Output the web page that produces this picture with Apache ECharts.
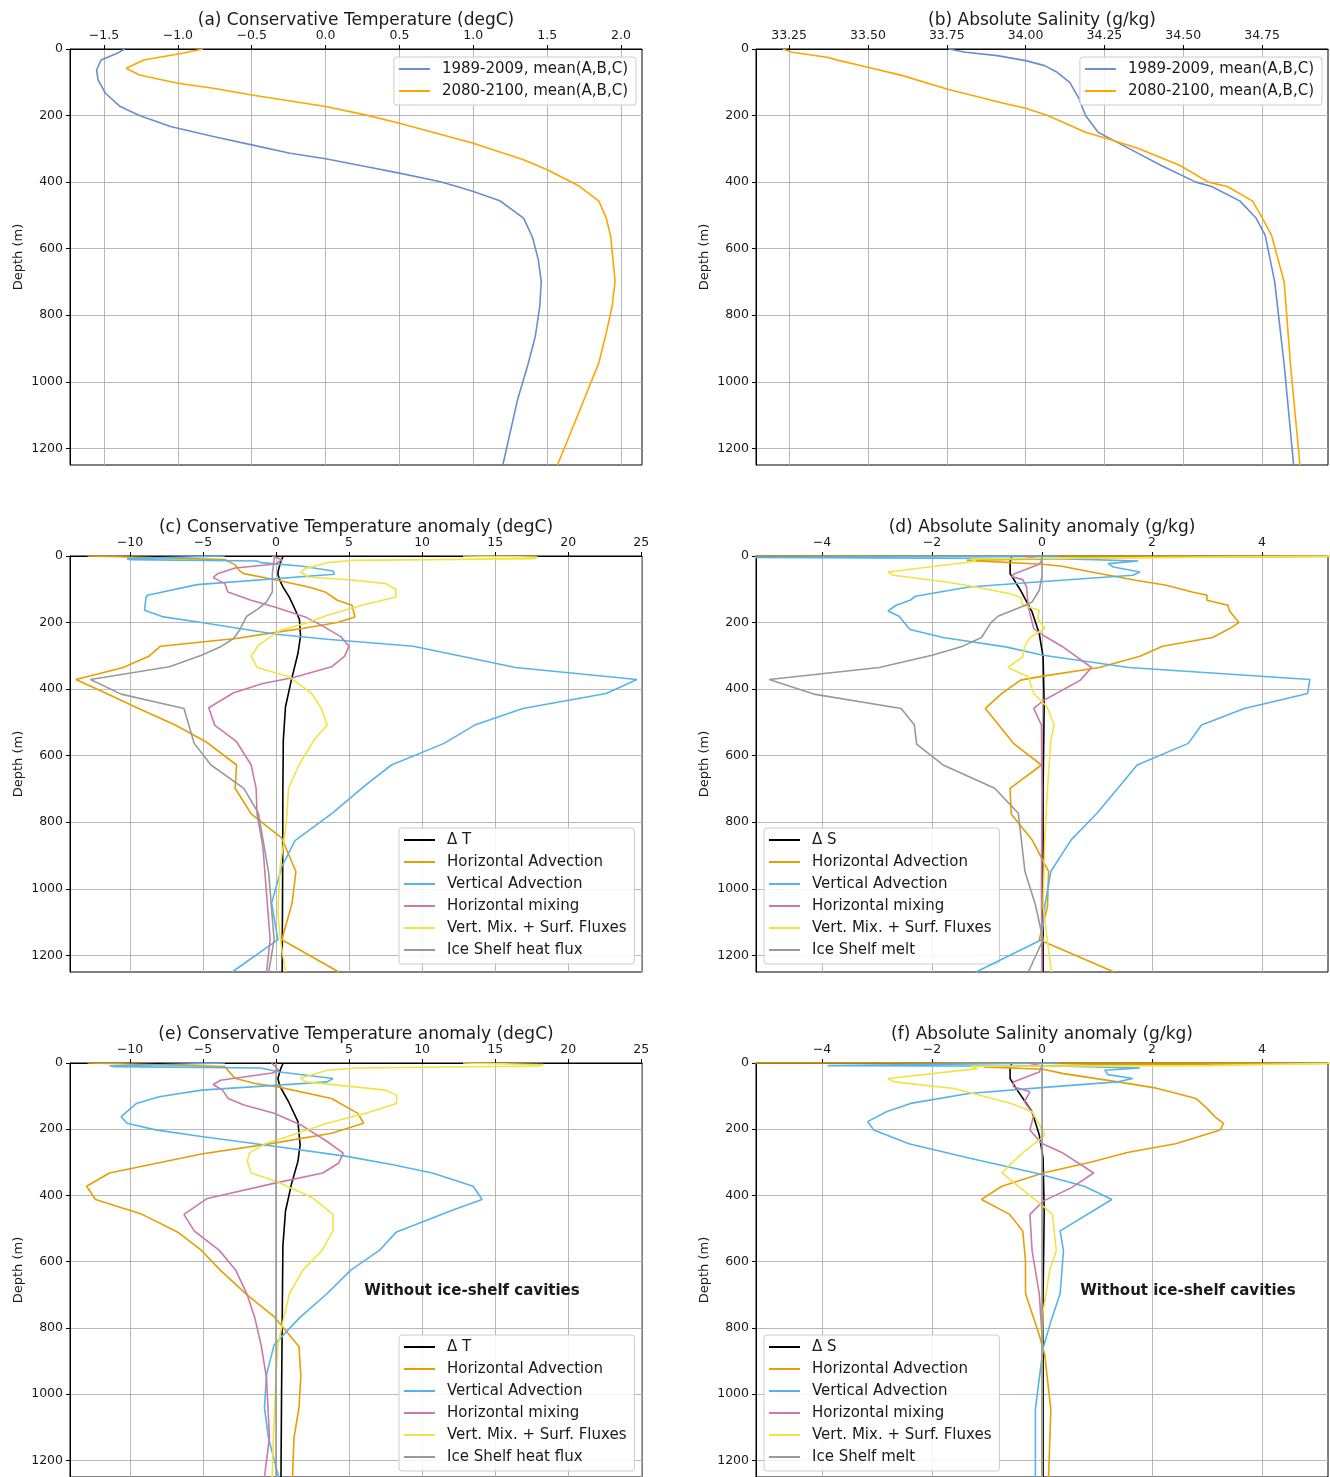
<!DOCTYPE html>
<html><head><meta charset="utf-8">
<script src="https://cdn.jsdelivr.net/npm/echarts@6/dist/echarts.min.js"></script>
<style>html,body{margin:0;padding:0;background:#fff}#c{width:1330px;height:1477px}</style>
</head><body><div id="c"></div>
<script>
// ---------- tick labels ----------
const depthTicks = [0, 200, 400, 600, 800, 1000, 1200];
const ticksA = [-1.5, -1.0, -0.5, 0, 0.5, 1.0, 1.5, 2.0];
const ticksB = [33.25, 33.5, 33.75, 34.0, 34.25, 34.5, 34.75];
const ticksT = [-10, -5, 0, 5, 10, 15, 20, 25];
const ticksS = [-4, -2, 0, 2, 4];

// ---------- series names ----------
const namesAB = ['1989-2009, mean(A,B,C)', '2080-2100, mean(A,B,C)'];
const namesT = ['\u0394 T', 'Horizontal Advection', 'Vertical Advection', 'Horizontal mixing', 'Vert. Mix. + Surf. Fluxes', 'Ice Shelf heat flux'];
const namesS = ['\u0394 S', 'Horizontal Advection', 'Vertical Advection', 'Horizontal mixing', 'Vert. Mix. + Surf. Fluxes', 'Ice Shelf melt'];

// ---------- data: [value, depth (m)] ----------
// (a) Conservative Temperature
const a_hist = [[-1.36,0],[-1.41,13],[-1.52,33],[-1.55,63],[-1.54,93],[-1.49,133],[-1.39,173],[-1.26,200],[-1.05,233],[-0.76,263],[-0.50,288],[-0.24,313],[0.0,330],[0.27,353],[0.5,373],[0.77,398],[0.89,413],[1.0,428],[1.18,456],[1.34,508],[1.40,565],[1.44,633],[1.46,698],[1.45,773],[1.42,863],[1.37,948],[1.30,1053],[1.20,1250]];
const a_fut = [[-0.83,0],[-0.97,13],[-1.23,33],[-1.35,58],[-1.26,78],[-1.0,103],[-0.76,118],[-0.5,138],[0.0,173],[0.27,198],[0.5,223],[1.0,283],[1.34,333],[1.5,363],[1.71,410],[1.85,457],[1.90,508],[1.93,563],[1.96,698],[1.94,773],[1.90,853],[1.85,943],[1.75,1053],[1.57,1250]];
// (b) Absolute Salinity
const b_hist = [[33.756,0],[33.81,10],[33.91,20],[34.00,35],[34.06,50],[34.10,70],[34.14,100],[34.17,150],[34.19,200],[34.23,250],[34.27,270],[34.33,300],[34.43,350],[34.54,400],[34.59,413],[34.68,457],[34.73,507],[34.76,560],[34.79,700],[34.82,948],[34.85,1250]];
const b_fut = [[33.23,0],[33.26,10],[33.37,25],[33.41,35],[33.50,55],[33.61,80],[33.75,120],[33.93,163],[34.0,178],[34.07,200],[34.19,250],[34.26,270],[34.36,300],[34.49,350],[34.58,400],[34.64,413],[34.72,457],[34.75,507],[34.78,560],[34.82,700],[34.84,948],[34.87,1250]];

// (c) Temperature anomaly budget
const c_dT = [[0.5,0],[0.33,16],[0.15,45],[0.13,55],[0.26,73],[0.5,95],[0.9,123],[1.3,160],[1.6,190],[1.68,240],[1.5,293],[1.05,373],[0.65,453],[0.5,553],[0.47,700],[0.45,1000],[0.42,1250]];
const c_hadv = [[-12.9,0],[-10,3],[-3.5,11],[-2.8,26],[-2.5,44],[-2.2,53],[0.1,73],[2.3,94],[3.35,108],[3.7,118],[4.2,133],[5.2,148],[5.4,183],[4.2,200],[1.8,218],[0.65,225],[-2.75,248],[-7.9,271],[-8.7,301],[-10.5,336],[-13.7,371],[-11.6,413],[-9.4,458],[-6.9,508],[-4.8,558],[-2.7,628],[-2.8,698],[-1.7,775],[0.4,848],[1.36,948],[1.1,1043],[0.4,1153],[4.3,1250]];
const c_vadv = [[-3.5,0],[-10.2,8],[-10,11],[-1.3,15],[-1.0,20],[1.8,31],[3.9,45],[4.0,55],[-5.4,86],[-8.8,118],[-8.9,125],[-9.0,163],[-7.7,183],[-5.1,200],[-2.5,218],[0,235],[3.5,250],[9.4,271],[16.4,335],[24.7,371],[22.6,413],[16.9,458],[13.6,508],[11.5,563],[7.9,628],[6.15,688],[3.9,771],[1.3,855],[0.4,933],[-0.3,1043],[0.13,1153],[-3.0,1250]];
const c_hmix = [[-0.25,0],[0.4,11],[0,24],[-2.8,36],[-4.0,53],[-4.3,65],[-3.5,83],[-3.3,108],[-1.7,133],[-0.1,153],[2.0,183],[3.3,213],[4.45,243],[5.0,271],[4.7,301],[3.8,333],[1.2,365],[-0.9,383],[-2.9,411],[-4.6,456],[-4.2,508],[-2.7,558],[-1.7,628],[-1.36,698],[-1.3,773],[-0.9,873],[-0.4,1153],[-0.65,1250]];
const c_vmix = [[12.8,0],[17.9,3],[17.7,8],[5.4,13],[3.5,20],[2.0,38],[1.7,48],[2.2,63],[5.4,73],[7.5,83],[8.2,100],[8.2,123],[5.9,148],[3.5,178],[2.0,203],[0.3,223],[-1.2,268],[-1.7,301],[-1.3,335],[0.9,363],[2.4,411],[3.1,458],[3.5,508],[2.6,553],[1.57,628],[0.86,698],[0.7,803],[0.26,943],[0.13,1073],[0.3,1153],[0.65,1250]];
const c_ice = [[-0.1,0],[-0.25,53],[-0.25,108],[-0.65,138],[-1.2,158],[-2.0,181],[-2.5,223],[-2.9,248],[-3.8,273],[-5.1,298],[-7.3,333],[-12.7,371],[-10.6,415],[-6.3,458],[-5.6,563],[-4.45,628],[-2.2,698],[-1.2,773],[-0.5,953],[-0.13,1153],[-0.5,1250]];

// (d) Salinity anomaly budget
const d_dS = [[-0.55,0],[-0.58,18],[-0.58,53],[-0.39,103],[-0.18,168],[-0.05,233],[0.02,303],[0.04,450],[0.02,700],[0.02,1250]];
const d_hadv = [[-5.5,0],[5.5,1],[1.1,5],[-1.37,13],[0.02,25],[0.36,31],[0.9,48],[1.7,73],[2.26,88],[2.73,108],[3.0,118],[3.0,133],[3.38,148],[3.41,165],[3.58,200],[3.41,218],[3.1,245],[2.19,271],[1.78,301],[1.04,335],[0.02,361],[-0.39,373],[-0.73,413],[-1.03,458],[-0.52,563],[-0.01,628],[-0.58,698],[-0.56,775],[-0.18,853],[0.12,948],[0.1,1053],[-0.05,1153],[1.31,1250]];
const d_vadv = [[0.3,0],[-5.5,4],[0.3,8],[1.75,15],[1.2,23],[1.3,33],[1.78,48],[1.65,58],[0.16,75],[-1.33,93],[-2.3,121],[-2.4,133],[-2.65,148],[-2.8,165],[-2.6,181],[-2.4,221],[-1.8,245],[-0.66,273],[0.02,298],[1.58,335],[4.87,371],[4.83,413],[3.68,458],[2.9,508],[2.66,563],[1.73,628],[1.38,698],[1.0,773],[0.53,853],[0.16,948],[0.05,1053],[-0.01,1153],[-1.2,1250]];
const d_hmix = [[-0.34,0],[0,11],[-0.05,25],[-0.5,53],[-0.55,62],[-0.35,71],[-0.28,93],[-0.25,153],[-0.15,218],[0.02,238],[0.36,271],[0.9,335],[0.7,373],[0.02,435],[-0.15,458],[-0.01,508],[0,700],[-0.01,1000],[0,1250]];
const d_vmix = [[5.5,0],[5.5,6],[-1.3,9],[-1.2,16],[-2.8,48],[-2.7,58],[-1.74,78],[-1.2,93],[-0.59,113],[-0.39,125],[-0.35,148],[-0.05,163],[-0.08,188],[0.05,218],[-0.22,245],[-0.32,273],[-0.35,303],[-0.62,335],[-0.25,363],[-0.15,413],[0.09,453],[0.22,508],[0.16,553],[0.1,700],[0.05,853],[0.02,1053],[0.17,1250]];
const d_ice = [[0,0],[0,60],[-0.05,103],[-0.18,138],[-0.35,151],[-0.8,181],[-0.93,201],[-1.1,245],[-1.47,273],[-2.0,298],[-2.96,335],[-4.96,371],[-4.15,415],[-2.56,458],[-2.32,508],[-2.28,565],[-1.8,628],[-0.86,698],[-0.43,773],[-0.31,948],[-0.12,1048],[0.02,1153],[-0.25,1250]];

// (e) Temperature anomaly budget, no cavities
const e_dT = [[0.5,0],[0.33,16],[0.13,47],[0.26,70],[0.86,117],[1.5,177],[1.65,247],[1.5,297],[1.05,367],[0.65,447],[0.47,553],[0.42,800],[0.38,1000],[0.34,1250]];
const e_hadv = [[-12.9,0],[-10,3],[-3.5,11],[-2.9,42],[-2.75,47],[-1.44,62],[0.13,72],[3.8,107],[5.6,152],[6.0,182],[3.8,212],[-0.13,242],[-5.1,275],[-11.4,332],[-12.96,372],[-12.36,412],[-9.16,457],[-6.68,512],[-5.1,566],[-3.8,626],[-1.96,701],[-0.13,766],[1.57,856],[1.7,946],[1.57,1041],[1.23,1131],[1.13,1250]];
const e_vadv = [[-3.5,0],[-11.4,9],[-11,11],[-1.05,15],[0.26,27],[3.9,47],[3.5,57],[-1.7,72],[-5.1,82],[-8.0,102],[-9.55,122],[-10.6,162],[-10.2,182],[-8.25,202],[-5.1,222],[0,252],[4.84,282],[8.0,307],[10.7,332],[13.5,372],[14.1,412],[12.2,442],[8.25,510],[7.07,566],[5.1,626],[3.5,696],[1.57,771],[-0.13,851],[-0.65,941],[-0.79,1041],[-0.52,1131],[0.18,1250]];
const e_hmix = [[-0.3,0],[0.18,22],[-0.26,30],[-3.8,52],[-4.3,65],[-3.66,82],[-3.27,107],[-2.2,127],[-0.13,152],[1.7,187],[3.5,237],[4.6,272],[4.3,302],[3.2,332],[0,362],[-4.7,409],[-6.3,457],[-5.6,507],[-3.9,565],[-2.75,626],[-1.96,701],[-1.44,771],[-1.0,856],[-0.65,951],[-0.45,1131],[-0.79,1250]];
const e_vmix = [[12.8,0],[18.3,5],[18.0,9],[5.5,15],[3.5,22],[1.7,45],[2.0,57],[5.4,72],[7.5,82],[8.25,97],[8.25,122],[6.15,152],[3.5,182],[0.8,222],[-0.65,242],[-1.83,272],[-1.96,297],[-1.7,332],[0,357],[2.5,407],[3.9,457],[3.9,507],[3.14,566],[1.83,626],[0.92,696],[0.52,771],[0.13,851],[0,941],[-0.18,1131],[-0.26,1250]];
const e_ice = [[0,0],[0,1250]];

// (f) Salinity anomaly budget, no cavities
const f_dS = [[-0.55,0],[-0.58,17],[-0.58,47],[-0.45,82],[-0.18,147],[-0.05,217],[0.02,287],[0.04,450],[0.02,700],[0.02,1250]];
const f_hadv = [[-5.5,0],[5.5,1],[1.1,5],[-1.06,12],[0.02,19],[0.39,32],[1.38,57],[2.05,75],[2.8,107],[3.0,137],[3.14,162],[3.3,182],[3.24,202],[2.43,244],[1.55,270],[0.9,299],[0.02,332],[-0.73,372],[-1.1,412],[-0.59,457],[-0.35,507],[-0.3,597],[-0.3,696],[-0.05,821],[0.05,881],[0.16,1046],[0.12,1250]];
const f_vadv = [[0.3,0],[-3.9,8],[0.4,10],[1.78,15],[1.14,22],[1.2,35],[1.65,47],[1.38,57],[0.16,72],[-1.33,92],[-2.39,122],[-2.83,147],[-3.17,177],[-3.06,202],[-2.42,244],[-1.33,287],[-0.12,332],[0.77,372],[1.27,412],[0.33,507],[0.39,567],[0.33,696],[0.16,781],[0.02,861],[-0.12,1046],[-0.12,1250]];
const f_hmix = [[-0.25,0],[0,9],[-0.05,27],[-0.52,57],[-0.52,72],[-0.22,87],[-0.32,117],[-0.15,157],[-0.22,202],[-0.01,242],[0.36,270],[0.94,332],[0.53,377],[0.02,417],[-0.22,457],[-0.18,567],[-0.05,696],[0,821],[0,1250]];
const f_vmix = [[5.5,0],[5.5,3],[3.04,8],[-1.3,10],[-1.17,17],[-2.8,47],[-2.69,57],[-1.6,77],[-0.56,122],[-0.18,147],[0.0,200],[0.05,219],[-0.32,267],[-0.52,297],[-0.73,332],[-0.32,387],[0.02,432],[0.19,457],[0.26,567],[0.14,626],[0.02,751],[0,900],[0,1250]];
const f_ice = [[0,0],[0,1250]];

// ---------- layout / style ----------
const FONT = 'DejaVu Sans';
const TXT = '#1a1a1a';
const colAB = ['#6a8dd0', '#ffa500'];
const colBud = ['#000000', '#E69F00', '#56B4E9', '#CC79A7', '#F0E442', '#999999'];
const GW = 572, GH = 416;
const panels = [
  {left:70,  top:49,   xmin:-1.73,  xmax:2.142,  ticks:ticksA, dec:1, title:'(a) Conservative Temperature (degC)',  names:namesAB, cols:colAB, data:[a_hist,a_fut], legend:{right:694, top:57}},
  {left:756, top:49,   xmin:33.145, xmax:34.959, ticks:ticksB, dec:2, title:'(b) Absolute Salinity (g/kg)',         names:namesAB, cols:colAB, data:[b_hist,b_fut], legend:{right:8, top:57}},
  {left:70,  top:556,  xmin:-14.1,  xmax:25.05,  ticks:ticksT, dec:0, title:'(c) Conservative Temperature anomaly (degC)', names:namesT, cols:colBud, data:[c_dT,c_hadv,c_vadv,c_hmix,c_vmix,c_ice], legend:{left:399, top:828}},
  {left:756, top:556,  xmin:-5.2,   xmax:5.2,    ticks:ticksS, dec:0, title:'(d) Absolute Salinity anomaly (g/kg)', names:namesS, cols:colBud, data:[d_dS,d_hadv,d_vadv,d_hmix,d_vmix,d_ice], legend:{left:764, top:828}},
  {left:70,  top:1063, xmin:-14.1,  xmax:25.05,  ticks:ticksT, dec:0, title:'(e) Conservative Temperature anomaly (degC)', names:namesT, cols:colBud, data:[e_dT,e_hadv,e_vadv,e_hmix,e_vmix,e_ice], legend:{left:399, top:1335}, note:'Without ice-shelf cavities', noteX:472},
  {left:756, top:1063, xmin:-5.2,   xmax:5.2,    ticks:ticksS, dec:0, title:'(f) Absolute Salinity anomaly (g/kg)', names:namesS, cols:colBud, data:[f_dS,f_hadv,f_vadv,f_hmix,f_vmix,f_ice], legend:{left:764, top:1335}, note:'Without ice-shelf cavities', noteX:1188}
];

const fmt = (dec) => (v) => {
  const s = Math.abs(v).toFixed(dec);
  return (v < 0 ? '\u2212' : '') + s;
};

const grid = [], xAxis = [], yAxis = [], series = [], legend = [], graphic = [];
panels.forEach((p, i) => {
  grid.push({left:p.left, top:p.top, width:GW, height:GH, show:true, borderColor:'#000', borderWidth:1, backgroundColor:'transparent', containLabel:false});
  xAxis.push({
    type:'value', gridIndex:i, position:'top', min:p.xmin, max:p.xmax,
    axisLine:{show:true, onZero:false, lineStyle:{color:'#000', width:1}},
    axisTick:{show:true, length:4, inside:false, lineStyle:{color:'#000', width:1}, customValues:p.ticks},
    axisLabel:{show:true, customValues:p.ticks, formatter:fmt(p.dec), fontFamily:FONT, fontSize:12.5, color:TXT, margin:7},
    splitLine:{show:true, lineStyle:{color:'#b0b0b0', width:0.9}}
  });
  yAxis.push({
    type:'value', gridIndex:i, inverse:true, min:0, max:1250,
    name:'Depth (m)', nameLocation:'middle', nameRotate:90, nameGap:45,
    nameTextStyle:{fontFamily:FONT, fontSize:13, color:TXT},
    axisLine:{show:true, onZero:false, lineStyle:{color:'#000', width:1}},
    axisTick:{show:true, length:4, lineStyle:{color:'#000', width:1}, customValues:depthTicks},
    axisLabel:{show:true, customValues:depthTicks, formatter:(v) => String(Math.round(v)), fontFamily:FONT, fontSize:12.5, color:TXT, margin:7},
    splitLine:{show:true, lineStyle:{color:'#b0b0b0', width:0.9}}
  });
  p.data.forEach((d, k) => {
    series.push({
      type:'line', name:p.names[k], xAxisIndex:i, yAxisIndex:i, data:d,
      symbol:'none', showSymbol:false, clip:true, silent:true, animation:false,
      lineStyle:{color:p.cols[k], width:1.6}, itemStyle:{color:p.cols[k]},
      emphasis:{disabled:true}, z:2 + k
    });
  });
  legend.push(Object.assign({
    orient:'vertical', data:p.names, selectedMode:false, icon:'rect',
    itemWidth:31, itemHeight:2, itemGap:0,
    textStyle:{fontFamily:FONT, fontSize:15, color:TXT, lineHeight:22, padding:[0,0,0,7]},
    backgroundColor:'rgba(255,255,255,0.85)', borderColor:'#cccccc', borderWidth:1, borderRadius:3,
    padding:[1,8,3,5]
  }, p.legend));
  graphic.push({type:'text', x:p.left + GW / 2, y:p.top - 28,
    style:{text:p.title, fontFamily:FONT, fontSize:17, fill:TXT, textAlign:'center', textVerticalAlign:'middle'}, silent:true});
  if (p.note) {
    graphic.push({type:'text', x:p.noteX, y:1291,
      style:{text:p.note, fontFamily:FONT, fontSize:15, fontWeight:'bold', fill:TXT, textAlign:'center', textVerticalAlign:'middle'}, silent:true, z:100});
  }
});

const chart = echarts.init(document.getElementById('c'), null, {renderer:'canvas', width:1330, height:1477});
chart.setOption({
  backgroundColor:'#ffffff',
  animation:false,
  grid, xAxis, yAxis, series, legend, graphic,
  tooltip:{show:false}
});
</script>
</body></html>
